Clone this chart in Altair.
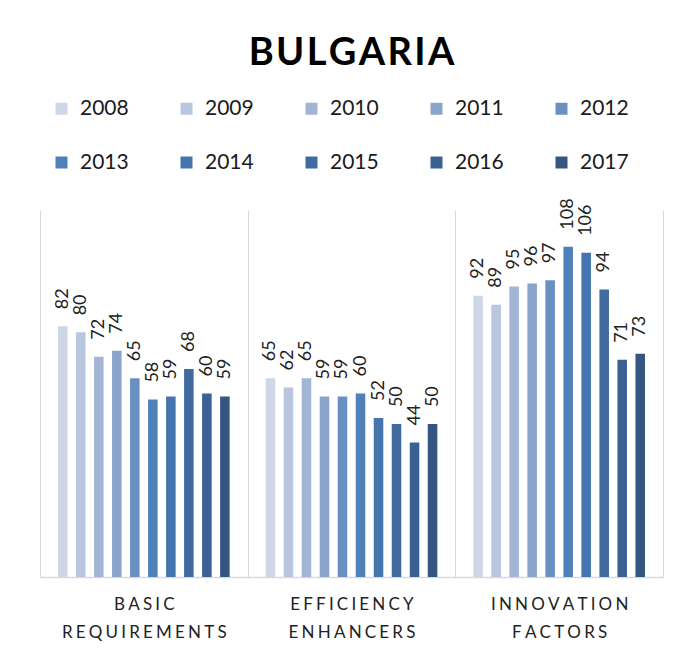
import altair as alt
import pandas as pd

categories = ["BASIC REQUIREMENTS", "EFFICIENCY ENHANCERS", "INNOVATION FACTORS"]
years = ["2008", "2009", "2010", "2011", "2012", "2013", "2014", "2015", "2016", "2017"]
basic_requirements = [82, 80, 72, 74, 65, 58, 59, 68, 60, 59]
efficiency_enhancers = [65, 62, 65, 59, 59, 60, 52, 50, 44, 50]
innovation_factors = [92, 89, 95, 96, 97, 108, 106, 94, 71, 73]
year_colors = ["#CDD7E8", "#B8C6E0", "#A2B5D6", "#8BA4CC", "#6A8FC3",
               "#5080BA", "#4674AD", "#416AA0", "#3B6092", "#345681"]

THIN = "\u2009"
HAIR = "\u200a"
GAP = THIN + HAIR


def spaced(label):
    return "|".join(GAP.join(word) for word in label.split(" "))


series = [basic_requirements, efficiency_enhancers, innovation_factors]
rows = []
for cat, vals in zip(categories, series):
    for yr, v in zip(years, vals):
        rows.append({"label": spaced(cat), "year": yr, "value": v})
df = pd.DataFrame(rows)
cat_order = [spaced(c) for c in categories]

x = alt.X("label:N", sort=cat_order,
          scale=alt.Scale(paddingInner=0, paddingOuter=0),
          axis=alt.Axis(title=None, ticks=False, grid=True, tickBand="extent",
                        gridColor="#D9D9D9", gridWidth=1,
                        domainColor="#D9D9D9", domainWidth=1.5,
                        labelExpr="split(datum.label, '|')", labelAngle=0,
                        labelFont="Lato", labelFontSize=17, labelLineHeight=28,
                        labelPadding=19, labelColor="#222222", labelLimit=0))
xoff = alt.XOffset("year:N", sort=years,
                   scale=alt.Scale(paddingInner=0.47, paddingOuter=1))
y = alt.Y("value:Q", scale=alt.Scale(domain=[0, 120]), axis=None)

color = alt.Color("year:N", sort=years,
                  scale=alt.Scale(domain=years, range=year_colors),
                  legend=alt.Legend(orient="none", legendX=11, legendY=-112,
                                    columns=5, direction="horizontal", title=None,
                                    symbolType="square", symbolSize=144,
                                    symbolStrokeWidth=0, symbolOpacity=1,
                                    labelFont="Lato", labelFontSize=21,
                                    labelOffset=8, columnPadding=47,
                                    rowPadding=32, gridAlign="all",
                                    labelColor="#1a1a1a"))

base = alt.Chart(df).encode(x=x, xOffset=xoff, y=y)

bars = base.mark_bar().encode(color=color)
labels = base.mark_text(angle=270, align="left", baseline="middle", dx=17,
                        font="Lato", fontSize=18, color="#222222").encode(
    text=alt.Text("value:Q"))

title_text = HAIR.join("BULGARIA")

chart = alt.layer(bars, labels).properties(
    width=623, height=367,
    title=alt.Title(title_text, font="Lato", fontSize=38, fontWeight="bold",
                    anchor="middle", frame="group", offset=25, color="#000000"),
    autosize=alt.AutoSizeParams(type="none"),
    padding={"left": 32, "top": 202, "right": 16, "bottom": 74},
    background="white",
).configure_view(stroke=None)

chart.save("out.html", embed_options={"renderer": "svg", "actions": False})
